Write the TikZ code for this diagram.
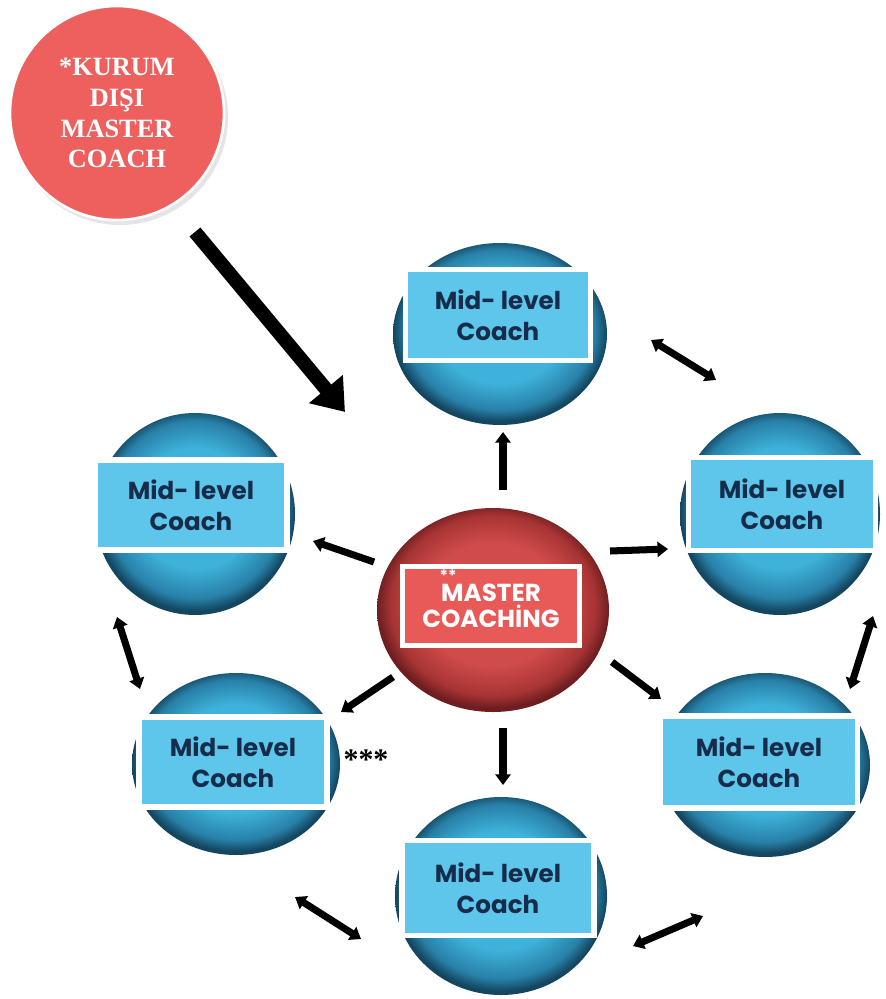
\documentclass[tikz,border=0pt]{standalone}
\usepackage{fontspec}
\setmainfont{Liberation Serif}
\newfontfamily\boxfont{Poppins}
\usetikzlibrary{shapes.geometric,arrows.meta}

\definecolor{boxblue}{RGB}{94,198,234}
\definecolor{navytext}{RGB}{22,44,74}
\definecolor{boxred}{RGB}{232,90,88}
\definecolor{outerred}{RGB}{238,96,94}
% sphere tones
\definecolor{blueA}{RGB}{120,218,242}
\definecolor{blueB}{RGB}{62,178,218}
\definecolor{blueC}{RGB}{40,128,168}
\definecolor{blueD}{RGB}{20,70,96}
\definecolor{redA}{RGB}{236,120,116}
\definecolor{redB}{RGB}{208,76,74}
\definecolor{redC}{RGB}{168,52,52}
\definecolor{redD}{RGB}{110,30,32}

\pgfdeclareradialshading{bluesph}{\pgfpoint{0bp}{2bp}}{%
  color(0bp)=(blueA); color(8bp)=(blueB); color(15bp)=(blueB);
  color(22bp)=(blueC); color(25bp)=(blueD); color(50bp)=(blueD)}
\pgfdeclareradialshading{redsph}{\pgfpoint{0bp}{2bp}}{%
  color(0bp)=(redA); color(8bp)=(redB); color(15bp)=(redB);
  color(22bp)=(redC); color(25bp)=(redD); color(50bp)=(redD)}

\begin{document}
\begin{tikzpicture}[x=0.02cm,y=-0.02cm,
  bluesphere/.style={ellipse,inner sep=0pt,shading=bluesph},
  redsphere/.style={ellipse,inner sep=0pt,shading=redsph},
  coachbox/.style={rectangle,draw=white,line width=3.2pt,fill=boxblue,
    text=navytext,align=center,inner sep=0pt,
    font=\boxfont\bfseries\fontsize{14}{17.5}\selectfont},
  masterbox/.style={rectangle,draw=white,line width=3.2pt,fill=boxred,
    text=white,align=center,inner sep=0pt,
    font=\boxfont\bfseries\fontsize{14}{15}\selectfont},
  link/.style={line width=4pt,-{Triangle[length=6pt,width=8.5pt]}},
  twoway/.style={line width=4pt,{Triangle[length=6pt,width=8.5pt]}-{Triangle[length=6pt,width=8.5pt]}},
  bigarrow/.style={line width=8pt,-{Triangle[length=17pt,width=24pt]}}]

\useasboundingbox (0,0) rectangle (885,999);
\fill[white] (0,0) rectangle (885,999);

% external master coach disc
\fill[black!10] (120,117) circle[radius=108];
\node[circle,fill=outerred,draw=white,line width=1.5pt,minimum size=214*0.02cm,
  inner sep=0pt,text=white,align=center,
  font=\bfseries\fontsize{15}{17.6}\selectfont] (ext) at (117,113)
  {*KURUM\\DIŞI\\MASTER\\COACH};

% spheres
\node[bluesphere,minimum width=214*0.02cm,minimum height=182*0.02cm] (top) at (500,334) {};
\node[bluesphere,minimum width=200*0.02cm,minimum height=202*0.02cm] (left) at (195,514) {};
\node[bluesphere,minimum width=200*0.02cm,minimum height=202*0.02cm] (right) at (780,514) {};
\node[bluesphere,minimum width=208*0.02cm,minimum height=182*0.02cm] (lowleft) at (236,764) {};
\node[bluesphere,minimum width=210*0.02cm,minimum height=184*0.02cm] (lowright) at (765,765) {};
\node[bluesphere,minimum width=212*0.02cm,minimum height=198*0.02cm] (bottom) at (501,896) {};
\node[redsphere,minimum width=232*0.02cm,minimum height=204*0.02cm] (master) at (493,610) {};

% labels on the spheres
\node[coachbox,minimum width=185*0.02cm,minimum height=91*0.02cm] (topbox) at (498,315) {Mid- level\\Coach};
\node[coachbox,minimum width=192*0.02cm,minimum height=90*0.02cm] (leftbox) at (191,505) {Mid- level\\Coach};
\node[coachbox,minimum width=187*0.02cm,minimum height=93*0.02cm] (rightbox) at (782,504) {Mid- level\\Coach};
\node[coachbox,minimum width=188*0.02cm,minimum height=90*0.02cm] (lowleftbox) at (233,762) {Mid- level\\Coach};
\node[coachbox,minimum width=197*0.02cm,minimum height=92*0.02cm] (lowrightbox) at (759,762) {Mid- level\\Coach};
\node[coachbox,minimum width=192*0.02cm,minimum height=95*0.02cm] (bottombox) at (498,888) {Mid- level\\Coach};
\node[masterbox,minimum width=177*0.02cm,minimum height=79*0.02cm] (masterbox) at (491,606) {MASTER\\COACHİNG};
\node[text=white,font=\boxfont\bfseries\fontsize{9}{9}\selectfont,inner sep=0pt] (stars2) at (448,576) {**};
\node[font=\bfseries\fontsize{17}{17}\selectfont,inner sep=0pt] (stars3) at (366,760) {***};

% arrow end points
\coordinate (e1) at (195,232);  \coordinate (e2) at (345,412);
\coordinate (mt1) at (503,490); \coordinate (mt2) at (503,432);
\coordinate (ml1) at (374,562); \coordinate (ml2) at (313,541);
\coordinate (mr1) at (610,551); \coordinate (mr2) at (668,549);
\coordinate (mll1) at (393,677); \coordinate (mll2) at (341,712);
\coordinate (mb1) at (503,728); \coordinate (mb2) at (503,785);
\coordinate (mlr1) at (612,662); \coordinate (mlr2) at (661,699);
\coordinate (tr1) at (651,340); \coordinate (tr2) at (716,380);
\coordinate (lll1) at (117,617); \coordinate (lll2) at (140,689);
\coordinate (rlr1) at (873,616); \coordinate (rlr2) at (850,689);
\coordinate (llb1) at (295,897); \coordinate (llb2) at (361,939);
\coordinate (blr1) at (633,946); \coordinate (blr2) at (703,916);

% connectors
\draw[bigarrow] (e1) -- (e2);
\draw[link] (mt1) -- (mt2);
\draw[link] (ml1) -- (ml2);
\draw[link] (mr1) -- (mr2);
\draw[link] (mll1) -- (mll2);
\draw[link] (mb1) -- (mb2);
\draw[link] (mlr1) -- (mlr2);
\draw[twoway] (tr1) -- (tr2);
\draw[twoway] (lll1) -- (lll2);
\draw[twoway] (rlr1) -- (rlr2);
\draw[twoway] (llb1) -- (llb2);
\draw[twoway] (blr1) -- (blr2);
\end{tikzpicture}
\end{document}
